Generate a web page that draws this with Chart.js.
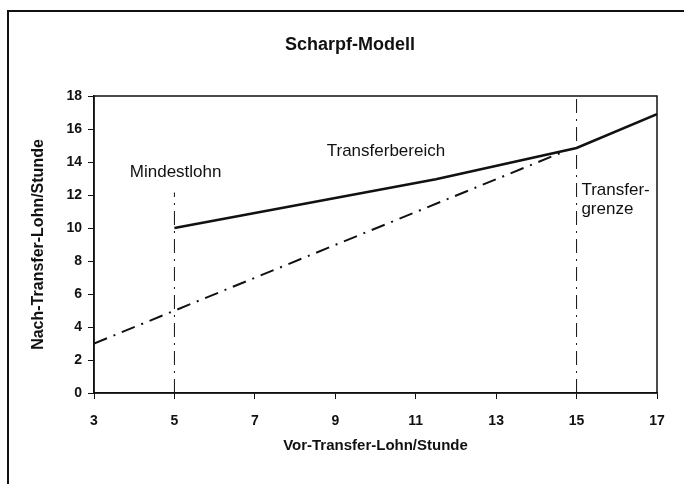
<!DOCTYPE html>
<html>
<head>
<meta charset="utf-8">
<script src="https://cdn.jsdelivr.net/npm/chart.js@4/dist/chart.umd.min.js"></script>
<style>
  html, body { margin: 0; padding: 0; background: #fff; }
  #wrap { width: 684px; height: 484px; }
</style>
</head>
<body>
<div id="wrap"><canvas id="c" width="684" height="484"></canvas></div>
<script>
// ---- data ----
const chartTitle = "Scharpf-Modell";
const xAxisTitle = "Vor-Transfer-Lohn/Stunde";
const yAxisTitle = "Nach-Transfer-Lohn/Stunde";

// Nach-Transfer-Lohn (solid)
const netWageX = [5, 11.5, 15, 17];
const netWageY = [10, 12.95, 14.85, 16.9];

// Vor-Transfer-Lohn reference (dash-dot)
const grossWageX = [3, 14.75];
const grossWageY = [3, 14.7];

// vertical markers
const minWageX = [5, 5];
const minWageY = [0, 12.15];
const limitX = [15, 15];
const limitY = [0, 18];

// axis ranges / ticks
const xMin = 3, xMax = 17, xStep = 2;
const yMin = 0, yMax = 18, yStep = 2;

// text labels placed in data coordinates
const labelTexts = ["Mindestlohn", "Transferbereich", "Transfer-", "grenze"];
const labelX = [5.03, 10.26, 15.12, 15.12];
const labelY = [13.1, 14.36, 12.0, 10.85];
const labelAlign = ["center", "center", "left", "left"];

// ---- helpers ----
const pts = (xs, ys) => xs.map((x, i) => ({ x: x, y: ys[i] }));
const INK = '#111111';

const decor = {
  id: 'decor',
  beforeDraw(chart) {
    const ctx = chart.ctx;
    ctx.save();
    ctx.fillStyle = '#fff';
    ctx.fillRect(0, 0, chart.width, chart.height);
    // outer frame (top and left edges)
    ctx.strokeStyle = INK;
    ctx.lineWidth = 2;
    ctx.beginPath();
    ctx.moveTo(684, 11);
    ctx.lineTo(8, 11);
    ctx.lineTo(8, 484);
    ctx.stroke();
    ctx.restore();
  },
  afterDraw(chart) {
    const ctx = chart.ctx;
    const a = chart.chartArea;
    const xs = chart.scales.x, ys = chart.scales.y;
    ctx.save();
    ctx.strokeStyle = INK;
    ctx.lineWidth = 1.5;
    ctx.strokeRect(a.left, a.top, a.right - a.left, a.bottom - a.top);
    // title
    ctx.fillStyle = INK;
    ctx.font = 'bold 18px "Liberation Sans", Arial, sans-serif';
    ctx.textAlign = 'center';
    ctx.textBaseline = 'alphabetic';
    ctx.fillText(chartTitle, 350, 50);
    // annotations
    ctx.font = '17px "Liberation Sans", Arial, sans-serif';
    for (let i = 0; i < labelTexts.length; i++) {
      ctx.textAlign = labelAlign[i];
      ctx.fillText(labelTexts[i], xs.getPixelForValue(labelX[i]), ys.getPixelForValue(labelY[i]));
    }
    ctx.restore();
  }
};

const tickFont = { family: '"Liberation Sans", Arial, sans-serif', size: 14, weight: 'bold' };

new Chart(document.getElementById('c'), {
  type: 'line',
  data: {
    datasets: [
      {
        data: pts(netWageX, netWageY),
        borderColor: INK, borderWidth: 2.6, pointRadius: 0, tension: 0, fill: false
      },
      {
        data: pts(grossWageX, grossWageY),
        borderColor: INK, borderWidth: 2, borderDash: [14, 7, 2, 7], pointRadius: 0, tension: 0, fill: false
      },
      {
        data: pts(minWageX, minWageY),
        borderColor: INK, borderWidth: 1, borderDash: [14, 6, 2, 6], pointRadius: 0, fill: false
      },
      {
        data: pts(limitX, limitY),
        borderColor: INK, borderWidth: 1, borderDash: [14, 6, 2, 6], pointRadius: 0, fill: false
      }
    ]
  },
  options: {
    responsive: false,
    animation: false,
    devicePixelRatio: 1,
    layout: { padding: { top: 96, right: 27, bottom: 0, left: 0 } },
    plugins: {
      legend: { display: false },
      tooltip: { enabled: false },
      title: { display: false }
    },
    scales: {
      x: {
        type: 'linear',
        min: xMin, max: xMax,
        afterFit(scale) { scale.height = 91; },
        ticks: { stepSize: xStep, color: INK, font: tickFont, padding: 14, maxRotation: 0 },
        grid: { drawOnChartArea: false, tickLength: 6, color: INK, lineWidth: 1 },
        border: { display: true, color: INK, width: 1.5 },
        title: {
          display: true, text: xAxisTitle, color: INK,
          font: { family: '"Liberation Sans", Arial, sans-serif', size: 15, weight: 'bold' },
          padding: { top: 0, bottom: 29 }
        }
      },
      y: {
        type: 'linear',
        min: yMin, max: yMax,
        afterFit(scale) { scale.width = 94; },
        ticks: { stepSize: yStep, color: INK, font: tickFont, padding: 6 },
        grid: { drawOnChartArea: false, tickLength: 6, color: INK, lineWidth: 1 },
        border: { display: true, color: INK, width: 1.5 },
        title: {
          display: true, text: yAxisTitle, color: INK,
          font: { family: '"Liberation Sans", Arial, sans-serif', size: 16, weight: 'bold' },
          padding: { top: 29, bottom: 0 }
        }
      }
    }
  },
  plugins: [decor]
});
</script>
</body>
</html>
